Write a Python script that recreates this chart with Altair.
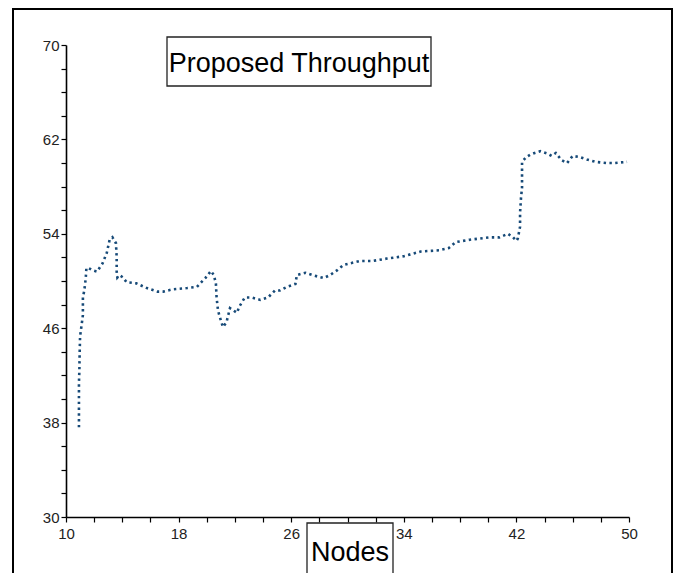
import altair as alt
import pandas as pd

# Data (Nodes vs throughput)
nodes = [10.92, 10.92, 10.92, 10.92, 10.92, 10.95, 10.97, 11.0, 11.2, 11.2, 11.3, 11.4, 11.45,
         11.6, 11.9, 12.2, 12.6, 12.9, 13.1, 13.3, 13.55, 13.6, 13.6, 13.65, 13.8, 14.05, 14.3,
         15.0, 15.75, 16.5, 16.9, 17.6, 18.6, 19.3, 19.9, 20.3, 20.5, 20.65, 20.7, 20.8, 20.94,
         21.15, 21.4, 21.65, 22.15, 22.3, 22.7, 23.2, 23.8, 24.35, 24.85, 25.2, 25.7, 26.3, 26.4,
         27.0, 27.5, 28.3, 28.75, 29.25, 29.7, 30.2, 30.9, 31.8, 32.8, 34.0, 35.2, 36.5, 37.2,
         37.7, 38.7, 39.4, 40.1, 40.8, 41.4, 41.76, 42.0, 42.1, 42.26, 42.26, 42.33, 42.4, 42.4,
         42.4, 42.7, 42.97, 43.3, 43.7, 44.2, 44.5, 44.8, 45.2, 45.6, 46.0, 46.5, 47.0, 47.6,
         48.4, 49.0, 49.86]
throughput = [37.6, 38.5, 39.5, 40.5, 41.4, 42.4, 43.9, 45.3, 47.1, 48.6, 49.2, 50.2, 51.1,
              51.1, 50.9, 50.8, 51.5, 52.4, 53.5, 53.7, 53.2, 52.0, 50.8, 50.3, 50.5, 50.3, 49.9,
              49.8, 49.4, 49.1, 49.1, 49.3, 49.4, 49.5, 50.25, 50.85, 50.5, 49.8, 48.6, 47.5, 46.9,
              46.1, 46.5, 47.7, 47.3, 47.8, 48.6, 48.6, 48.4, 48.6, 49.2, 49.2, 49.5, 49.75, 50.5,
              50.7, 50.5, 50.25, 50.5, 50.9, 51.35, 51.5, 51.7, 51.7, 51.9, 52.1, 52.5, 52.6, 52.8,
              53.3, 53.5, 53.6, 53.7, 53.7, 54.0, 53.7, 53.4, 53.6, 54.6, 55.8, 57.1, 57.9, 59.1,
              60.1, 60.5, 60.7, 60.85, 61.0, 60.8, 60.6, 60.85, 60.25, 60.0, 60.6, 60.5, 60.3, 60.1,
              60.0, 60.0, 60.1]

x_ticks = list(range(10, 51, 2))
y_ticks = list(range(30, 71, 2))
title_text = "Proposed Throughput"
xlabel_text = "Nodes"

df = pd.DataFrame({"nodes": nodes, "tp": throughput, "i": list(range(len(nodes)))})
one = pd.DataFrame({"a": [0]})

FONT = "Liberation Sans, Arial"
LABEL_FONT = "Liberation Sans"

line = alt.Chart(df).mark_line(
    color="#174a78", strokeWidth=2.6, strokeDash=[2.4, 3.4], strokeCap="butt"
).encode(
    x=alt.X("nodes:Q", scale=alt.Scale(domain=[10, 50], nice=False, zero=False),
            axis=alt.Axis(values=x_ticks, title="", grid=False, labelFlush=False,
                          labelOverlap=False, labelPadding=4, labelFont=LABEL_FONT,
                          labelFontSize=15, labelColor="#222222",
                          labelExpr="(datum.value - 10) % 8 == 0 ? datum.label : ''")),
    y=alt.Y("tp:Q", scale=alt.Scale(domain=[30, 70], nice=False, zero=False),
            axis=alt.Axis(values=y_ticks, title="", grid=False, labelFlush=False,
                          labelOverlap=False, labelPadding=2, labelFont=LABEL_FONT,
                          labelFontSize=15, labelColor="#222222",
                          labelExpr="(datum.value - 30) % 8 == 0 ? datum.label : ''")),
    order="i:Q",
)

border = alt.Chart(one).mark_rect(fillOpacity=0, stroke="black", strokeWidth=2).encode(
    x=alt.value(-53), x2=alt.value(606), y=alt.value(-36), y2=alt.value(545)
)

title_box = alt.Chart(one).mark_rect(fill="white", stroke="#222222", strokeWidth=1.3).encode(
    x=alt.value(101), x2=alt.value(365), y=alt.value(-8), y2=alt.value(41)
)
title_label = alt.Chart(one).mark_text(
    text=title_text, font=FONT, fontSize=27, color="black", align="center", baseline="alphabetic"
).encode(x=alt.value(233), y=alt.value(27))

node_box = alt.Chart(one).mark_rect(fill="white", stroke="#222222", strokeWidth=1.3).encode(
    x=alt.value(241), x2=alt.value(327), y=alt.value(478), y2=alt.value(545)
)
node_label = alt.Chart(one).mark_text(
    text=xlabel_text, font=FONT, fontSize=27, color="black", align="center", baseline="alphabetic"
).encode(x=alt.value(284), y=alt.value(516))

chart = alt.layer(border, line, title_box, title_label, node_box, node_label).properties(
    width=563, height=472,
    padding={"left": 66, "top": 45, "right": 47, "bottom": 56},
    autosize=alt.AutoSizeParams(type="none"),
    background="white",
).configure_view(stroke="transparent").configure_axis(
    domainColor="black", domainWidth=1.6, tickColor="black", tickWidth=1.2, tickSize=5,
)

chart.save("out.html", embed_options={"renderer": "svg", "actions": False})
